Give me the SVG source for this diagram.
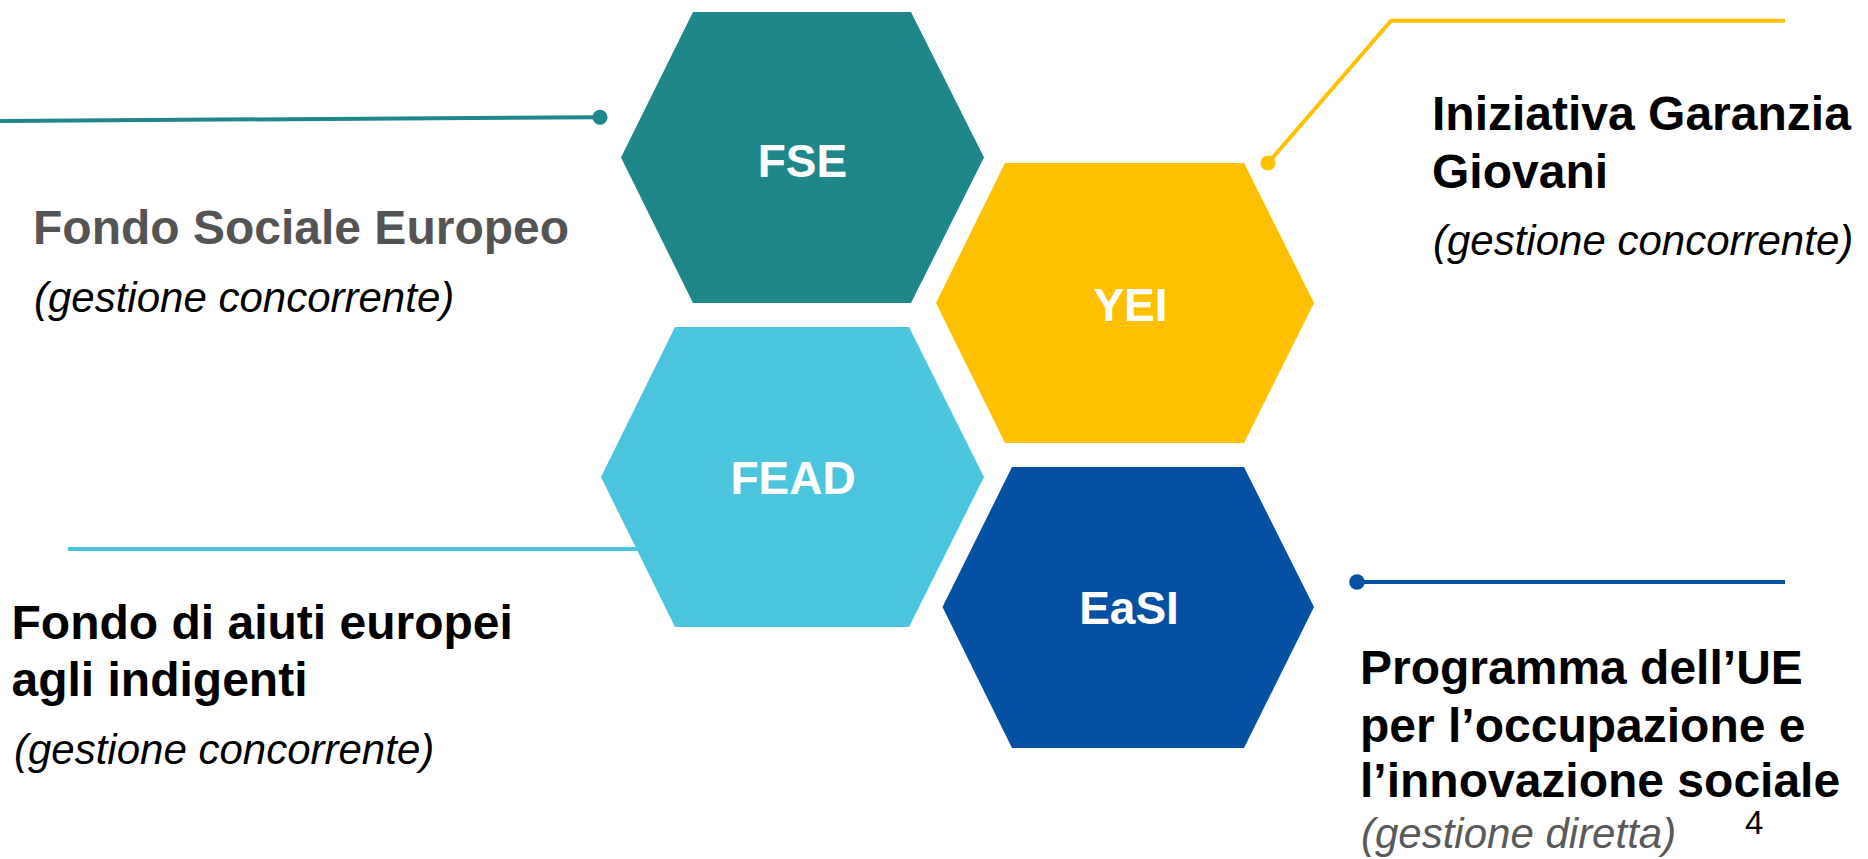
<svg xmlns="http://www.w3.org/2000/svg" width="1868" height="859" viewBox="0 0 1868 859">
  <style>
    .hex-label { font-family: "Liberation Sans", Arial, sans-serif; font-weight: bold; font-size: 46px; fill: #ffffff; text-anchor: middle; }
    .title { font-family: "Liberation Sans", Arial, sans-serif; font-weight: bold; font-size: 48px; fill: #000000; }
    .title-gray { fill: #545454; }
    .note { font-family: "Liberation Sans", Arial, sans-serif; font-style: italic; font-size: 42px; fill: #000000; }
    .note-gray { fill: #595959; }
    .page { font-family: "Liberation Sans", Arial, sans-serif; font-size: 33px; fill: #000000; }
    .link { fill: none; stroke-width: 4; stroke-linejoin: miter; }
  </style>
  <rect width="1868" height="859" fill="#ffffff"/>

  <!-- connectors (drawn first so the FEAD line runs under its hexagon) -->
  <g id="connectors">
    <line class="link" x1="-2" y1="121" x2="600" y2="117.2" stroke="#1f878b"/>
    <circle cx="600" cy="117.2" r="7.5" fill="#1f878b"/>

    <polyline class="link" points="1268,163 1391,20.7 1785,20.7" stroke="#ffc000"/>
    <circle cx="1268" cy="163" r="7.5" fill="#ffc000"/>

    <line class="link" x1="68" y1="549" x2="660" y2="549" stroke="#4bc5de"/>

    <line class="link" x1="1357" y1="582" x2="1785" y2="582" stroke="#0550a3"/>
    <circle cx="1357" cy="582" r="7.8" fill="#0550a3"/>
  </g>

  <!-- FSE -->
  <g id="node-fse">
    <polygon points="693,12 911,12 984,157.5 911,303 693,303 621,157.5" fill="#1f878b"/>
    <text class="hex-label" x="802.5" y="176.7">FSE</text>
  </g>

  <!-- YEI -->
  <g id="node-yei">
    <polygon points="1005,163 1244,163 1314,303 1244,443 1005,443 936,303" fill="#ffc000"/>
    <text class="hex-label" x="1130.5" y="320.7">YEI</text>
  </g>

  <!-- FEAD -->
  <g id="node-fead">
    <polygon points="675,327 909,327 984,477 909,627 675,627 601,477" fill="#4bc5de"/>
    <text class="hex-label" x="793" y="494.3">FEAD</text>
  </g>

  <!-- EaSI -->
  <g id="node-easi">
    <polygon points="1012,467 1244,467 1314,607 1244,748 1012,748 942.5,607" fill="#0550a3"/>
    <text class="hex-label" x="1129" y="624.3">EaSI</text>
  </g>

  <!-- descriptions -->
  <g id="label-fse">
    <text class="title title-gray" x="33" y="244">Fondo Sociale Europeo</text>
    <text class="note" x="34" y="311.7">(gestione concorrente)</text>
  </g>

  <g id="label-yei">
    <text class="title" x="1432" y="130">Iniziativa Garanzia</text>
    <text class="title" x="1432" y="188.3">Giovani</text>
    <text class="note" x="1433" y="255">(gestione concorrente)</text>
  </g>

  <g id="label-fead">
    <text class="title" x="11.5" y="639">Fondo di aiuti europei</text>
    <text class="title" x="11.5" y="695.7">agli indigenti</text>
    <text class="note" x="14" y="764">(gestione concorrente)</text>
  </g>

  <g id="label-easi">
    <text class="title" x="1360" y="684">Programma dell’UE</text>
    <text class="title" x="1360" y="741.7">per l’occupazione e</text>
    <text class="title" x="1360" y="797.3">l’innovazione sociale</text>
    <text class="note note-gray" x="1361" y="848.3">(gestione diretta)</text>
  </g>

  <text class="page" x="1745" y="834">4</text>
</svg>
